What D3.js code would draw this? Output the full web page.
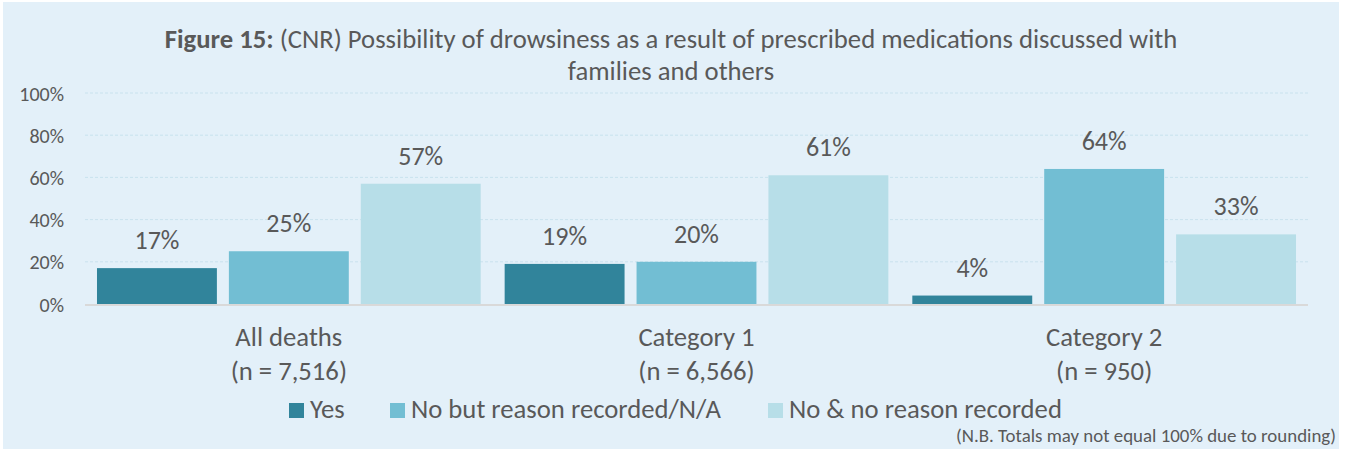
<!DOCTYPE html>
<html>
<head>
<meta charset="utf-8">
<script src="https://cdn.jsdelivr.net/npm/d3@7"></script>
<style>
  html, body { margin: 0; padding: 0; background: #ffffff; }
  svg { display: block; }
  text { font-family: Carlito, Calibri, "Open Sans", sans-serif; fill: #595959; }
</style>
</head>
<body>
<svg id="chart" width="1347" height="449"></svg>
<script>
// Chart data
const categories = ["All deaths", "Category 1", "Category 2"];
const categoryCounts = ["(n = 7,516)", "(n = 6,566)", "(n = 950)"];
const seriesNames = ["Yes", "No but reason recorded/N/A", "No & no reason recorded"];
const yesValues = [17, 19, 4];
const noReasonRecordedValues = [25, 20, 64];
const noNoReasonValues = [57, 61, 33];
const yTicks = [0, 20, 40, 60, 80, 100];

const seriesValues = [yesValues, noReasonRecordedValues, noNoReasonValues];
const colors = ["#31849b", "#72bed3", "#b7dee8"];
const fontStack = "Carlito, Calibri, 'Open Sans', sans-serif";

const svg = d3.select("#chart");

// Panel background
svg.append("rect")
  .attr("x", 3).attr("y", 2)
  .attr("width", 1336).attr("height", 447)
  .attr("fill", "#e3f0f9");

// Title
const title = svg.append("text")
  .attr("x", 671).attr("y", 48)
  .attr("text-anchor", "middle")
  .style("font-size", "26.7px");
title.append("tspan").style("font-weight", "bold").text("Figure 15:");
title.append("tspan").text(" (CNR) Possibility of drowsiness as a result of prescribed medications discussed with");
svg.append("text")
  .attr("x", 671).attr("y", 80)
  .attr("text-anchor", "middle")
  .style("font-size", "26.7px")
  .text("families and others");

// Scales
const x0 = d3.scaleBand().domain(categories).range([85, 1308]).padding(0);
const x1 = d3.scaleBand().domain(d3.range(seriesNames.length))
  .range([0, x0.bandwidth()]).paddingInner(1 / 11).paddingOuter(1 / 11);
const y = d3.scaleLinear().domain([0, 100]).range([304, 93]);

// Gridlines
svg.append("g")
  .selectAll("line")
  .data(yTicks.filter(t => t > 0))
  .join("line")
  .attr("x1", 85).attr("x2", 1308)
  .attr("y1", d => y(d)).attr("y2", d => y(d))
  .attr("stroke", "#c9e2ee")
  .attr("stroke-width", 1)
  .attr("stroke-dasharray", "3,2");

// Y axis labels
const yAxis = d3.axisLeft(y).tickValues(yTicks).tickFormat(d => d + "%").tickSize(0).tickPadding(0);
const yg = svg.append("g").attr("transform", "translate(64,0)").call(yAxis);
yg.select(".domain").remove();
yg.selectAll("text")
  .attr("dy", "0.35em")
  .style("font-size", "20px")
  .style("fill", "#595959")
  .style("font-family", fontStack);

// Bars
const groups = svg.append("g")
  .selectAll("g")
  .data(categories)
  .join("g")
  .attr("transform", d => `translate(${x0(d)},0)`);

groups.selectAll("rect")
  .data((d, i) => seriesValues.map((vals, s) => ({ s, v: vals[i] })))
  .join("rect")
  .attr("x", d => x1(d.s))
  .attr("width", x1.bandwidth())
  .attr("y", d => y(d.v))
  .attr("height", d => y(0) - y(d.v))
  .attr("fill", d => colors[d.s]);

// Value labels
groups.selectAll("text.value")
  .data((d, i) => seriesValues.map((vals, s) => ({ s, v: vals[i] })))
  .join("text")
  .attr("class", "value")
  .attr("x", d => x1(d.s) + x1.bandwidth() / 2)
  .attr("y", d => y(d.v) - 19)
  .attr("text-anchor", "middle")
  .style("font-size", "26px")
  .text(d => d.v + "%");

// Baseline
svg.append("line")
  .attr("x1", 85).attr("x2", 1308)
  .attr("y1", y(0) + 1).attr("y2", y(0) + 1)
  .attr("stroke", "#d9d9d9")
  .attr("stroke-width", 2);

// Category labels
const catLabels = svg.append("g")
  .selectAll("text")
  .data(categories)
  .join("text")
  .attr("text-anchor", "middle")
  .style("font-size", "26.7px");
catLabels.append("tspan").attr("x", d => x0(d) + x0.bandwidth() / 2).attr("y", 346).text(d => d);
catLabels.append("tspan").attr("x", d => x0(d) + x0.bandwidth() / 2).attr("y", 380)
  .text((d, i) => categoryCounts[i]);

// Legend
const legendX = [289, 390, 768];
const legend = svg.append("g")
  .selectAll("g")
  .data(seriesNames)
  .join("g")
  .attr("transform", (d, i) => `translate(${legendX[i]},0)`);
legend.append("rect")
  .attr("x", 0).attr("y", 403)
  .attr("width", 15).attr("height", 15)
  .attr("fill", (d, i) => colors[i]);
legend.append("text")
  .attr("x", 21).attr("y", 418)
  .style("font-size", "26.7px")
  .text(d => d);

// Footnote
svg.append("text")
  .attr("x", 1336).attr("y", 442)
  .attr("text-anchor", "end")
  .style("font-size", "18.9px")
  .text("(N.B. Totals may not equal 100% due to rounding)");
</script>
</body>
</html>
